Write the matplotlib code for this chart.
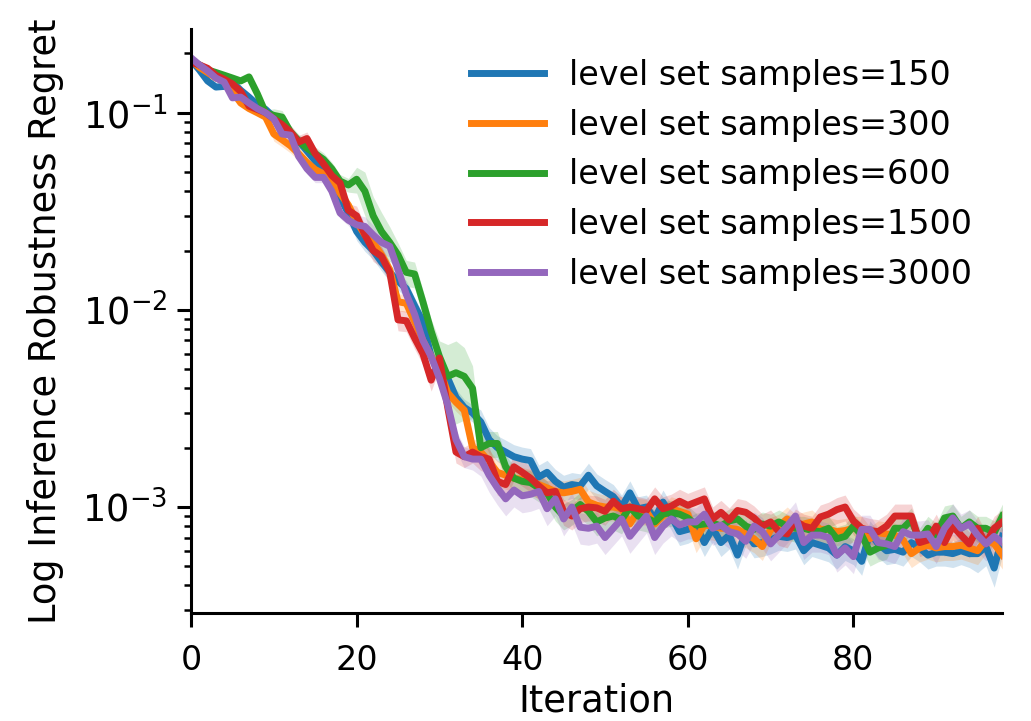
import matplotlib
matplotlib.use("Agg")
import matplotlib.pyplot as plt
import numpy as np

iterations = list(range(99))

labels = ["level set samples=150", "level set samples=300", "level set samples=600",
          "level set samples=1500", "level set samples=3000"]

regret_150 = [
    0.185, 0.165, 0.145, 0.135, 0.136, 0.143, 0.130, 0.120, 0.110, 0.104,
    0.095, 0.087, 0.078, 0.072, 0.064, 0.057, 0.050, 0.043, 0.037, 0.031,
    0.025, 0.022, 0.020, 0.0175, 0.0155, 0.014, 0.0128, 0.0105, 0.0087, 0.0058,
    0.0050, 0.0045, 0.0036, 0.0032, 0.0030, 0.0027, 0.0022, 0.0020, 0.0019, 0.0018,
    0.00175, 0.00172, 0.00142, 0.0015, 0.00135, 0.00126, 0.0013, 0.00128, 0.00145, 0.00128,
    0.0012, 0.00113, 0.0010, 0.00118, 0.00098, 0.0010, 0.00087, 0.00106, 0.0009, 0.00075,
    0.00077, 0.00081, 0.00066, 0.00078, 0.00066, 0.00072, 0.00057, 0.00075, 0.00065, 0.00066,
    0.00068, 0.00071, 0.0007, 0.00072, 0.0006, 0.00066, 0.00064, 0.00062, 0.00057, 0.00063,
    0.0006, 0.00053, 0.00074, 0.00065, 0.0006, 0.00061, 0.00059, 0.00066, 0.00062, 0.00057,
    0.00059, 0.00059, 0.00058, 0.0006, 0.00058, 0.00058, 0.00063, 0.00049, 0.00071]

regret_300 = [
    0.185, 0.170, 0.160, 0.150, 0.145, 0.128, 0.112, 0.105, 0.100, 0.095,
    0.078, 0.073, 0.068, 0.062, 0.056, 0.0515, 0.049, 0.044, 0.039, 0.034,
    0.028, 0.024, 0.022, 0.019, 0.016, 0.011, 0.0108, 0.0087, 0.0070, 0.0058,
    0.0050, 0.0038, 0.0034, 0.0031, 0.0020, 0.0019, 0.0017, 0.0015, 0.00145, 0.0014,
    0.00138, 0.00135, 0.0013, 0.00125, 0.0012, 0.00118, 0.0012, 0.00123, 0.00106, 0.00102,
    0.0010, 0.0010, 0.00098, 0.00082, 0.00096, 0.00095, 0.00082, 0.0009, 0.00098, 0.00095,
    0.00092, 0.00069, 0.00081, 0.0008, 0.00078, 0.00078, 0.00077, 0.00073, 0.00069, 0.00063,
    0.00077, 0.0008, 0.00087, 0.0008, 0.00082, 0.00084, 0.00077, 0.00077, 0.00075, 0.00076,
    0.00078, 0.00078, 0.00069, 0.00074, 0.00073, 0.00072, 0.00068, 0.00058, 0.00062, 0.00064,
    0.00062, 0.00063, 0.00063, 0.00064, 0.00062, 0.0006, 0.00068, 0.00065, 0.00057]

regret_600 = [
    0.185, 0.175, 0.165, 0.160, 0.155, 0.150, 0.145, 0.152, 0.125, 0.100,
    0.097, 0.095, 0.080, 0.072, 0.066, 0.062, 0.058, 0.052, 0.045, 0.043,
    0.046, 0.040, 0.030, 0.025, 0.022, 0.019, 0.0155, 0.0152, 0.011, 0.0078,
    0.0058, 0.0046, 0.0048, 0.0046, 0.0040, 0.0020, 0.0021, 0.0021, 0.0016, 0.0014,
    0.00135, 0.00133, 0.00125, 0.00118, 0.0010, 0.0009, 0.00095, 0.00103, 0.00095, 0.00084,
    0.00088, 0.0009, 0.00086, 0.0010, 0.0009, 0.00088, 0.00084, 0.00092, 0.00094, 0.00092,
    0.00088, 0.00081, 0.00082, 0.00083, 0.0008, 0.00085, 0.00087, 0.0008, 0.00077, 0.00082,
    0.0008, 0.00084, 0.0008, 0.00078, 0.00078, 0.00076, 0.00075, 0.00078, 0.00069, 0.00071,
    0.0008, 0.00072, 0.00059, 0.00062, 0.00064, 0.00078, 0.00078, 0.00086, 0.00068, 0.00078,
    0.00072, 0.00088, 0.0009, 0.00078, 0.00084, 0.00078, 0.00078, 0.00074, 0.0009]

regret_1500 = [
    0.180, 0.175, 0.168, 0.155, 0.148, 0.140, 0.128, 0.108, 0.104, 0.100,
    0.093, 0.087, 0.080, 0.071, 0.074, 0.062, 0.055, 0.048, 0.044, 0.032,
    0.030, 0.024, 0.020, 0.0187, 0.0155, 0.0089, 0.0088, 0.0072, 0.0060, 0.0044,
    0.0057, 0.0032, 0.0019, 0.0018, 0.0019, 0.0018, 0.00175, 0.00135, 0.0013, 0.0016,
    0.0015, 0.0014, 0.00128, 0.00118, 0.0012, 0.00095, 0.0009, 0.00098, 0.0010, 0.00099,
    0.00095, 0.00107, 0.00098, 0.0010, 0.00098, 0.00096, 0.0011, 0.00098, 0.00101, 0.00107,
    0.00102, 0.00106, 0.0011, 0.00087, 0.00094, 0.00086, 0.00096, 0.00094, 0.00088, 0.0008,
    0.00084, 0.00075, 0.00073, 0.00085, 0.0008, 0.00078, 0.00089, 0.00092, 0.00097, 0.0010,
    0.00085, 0.00078, 0.00076, 0.00075, 0.0008, 0.0009, 0.0009, 0.0009, 0.00066, 0.00068,
    0.0008, 0.00066, 0.0008, 0.00072, 0.00065, 0.00078, 0.00065, 0.00078, 0.00084]

regret_3000 = [
    0.190, 0.175, 0.163, 0.150, 0.143, 0.119, 0.120, 0.112, 0.105, 0.100,
    0.093, 0.078, 0.077, 0.060, 0.052, 0.047, 0.047, 0.040, 0.031, 0.0285,
    0.027, 0.0265, 0.024, 0.022, 0.021, 0.016, 0.012, 0.0095, 0.0070, 0.0058,
    0.0045, 0.0033, 0.0022, 0.0018, 0.00175, 0.00175, 0.00145, 0.00125, 0.0011, 0.00122,
    0.00114, 0.00116, 0.0012, 0.00098, 0.0011, 0.00087, 0.0010, 0.00079, 0.00078, 0.0008,
    0.0007, 0.00078, 0.00087, 0.00071, 0.0008, 0.0009, 0.0007, 0.0008, 0.00087, 0.00081,
    0.00084, 0.00084, 0.00092, 0.00078, 0.00081, 0.00075, 0.00073, 0.00067, 0.0008, 0.00075,
    0.00065, 0.00072, 0.0008, 0.0009, 0.00066, 0.00072, 0.00072, 0.0007, 0.00057, 0.00062,
    0.00056, 0.00077, 0.00077, 0.00066, 0.00065, 0.00063, 0.00075, 0.00072, 0.00072, 0.00073,
    0.00063, 0.00078, 0.00088, 0.00078, 0.00082, 0.00072, 0.00065, 0.00071, 0.00066]

# relative half-width of the shaded band (read by eye)
spread_150 = [0.03] * 10 + [0.06] * 10 + [0.10] * 15 + [0.15] * 60 + [0.2, 0.2, 0.2, 0.2]
spread_300 = [0.03] * 10 + [0.08] * 10 + [0.10] * 15 + [0.15] * 64
spread_600 = ([0.03] * 10 + [0.08] * 10 + [0.15, 0.25, 0.25, 0.25, 0.2, 0.15, 0.15, 0.15, 0.15, 0.15, 0.2]
              + [0.45, 0.45, 0.4, 0.3] + [0.15] * 64)
spread_1500 = [0.03] * 10 + [0.08] * 10 + [0.12] * 15 + [0.15] * 64
spread_3000 = [0.03] * 10 + [0.06] * 10 + [0.12] * 15 + [0.18] * 64

series = [regret_150, regret_300, regret_600, regret_1500, regret_3000]
spreads = [spread_150, spread_300, spread_600, spread_1500, spread_3000]
colors = ['#1f77b4', '#ff7f0e', '#2ca02c', '#d62728', '#9467bd']

fig = plt.figure(figsize=(10.31, 7.21), dpi=100)
ax = fig.add_axes([0.1853, 0.1498, 0.787, 0.81])

for y, s, c, lab in zip(series, spreads, colors, labels):
    y = np.array(y)
    s = np.array(s)
    ax.fill_between(iterations, y * (1 - s), y * (1 + s), color=c, alpha=0.2, linewidth=0)
    ax.plot(iterations, y, color=c, linewidth=5, label=lab)

ax.set_yscale('log')
ax.set_xlim(0, 98)
ax.set_ylim(2.9e-4, 0.266)
ax.set_xticks([0, 20, 40, 60, 80])

ax.set_xlabel('Iteration', fontsize=26.5)
ax.set_ylabel('Log Inference Robustness Regret', fontsize=26.5, labelpad=13)

ax.spines['top'].set_visible(False)
ax.spines['right'].set_visible(False)
ax.spines['left'].set_linewidth(2.2)
ax.spines['bottom'].set_linewidth(2.2)
ax.tick_params(axis='both', which='major', length=10, width=2.2)
ax.tick_params(axis='x', which='major', labelsize=24, pad=12)
ax.tick_params(axis='y', which='major', labelsize=26.5, pad=7)
ax.tick_params(axis='both', which='minor', length=5, width=1.8)

ax.legend(loc='upper right', bbox_to_anchor=(1.0, 1.0), frameon=False, fontsize=24,
          handlelength=2.2, handletextpad=0.75, labelspacing=0.5)

fig.savefig('out.png', dpi=100)
